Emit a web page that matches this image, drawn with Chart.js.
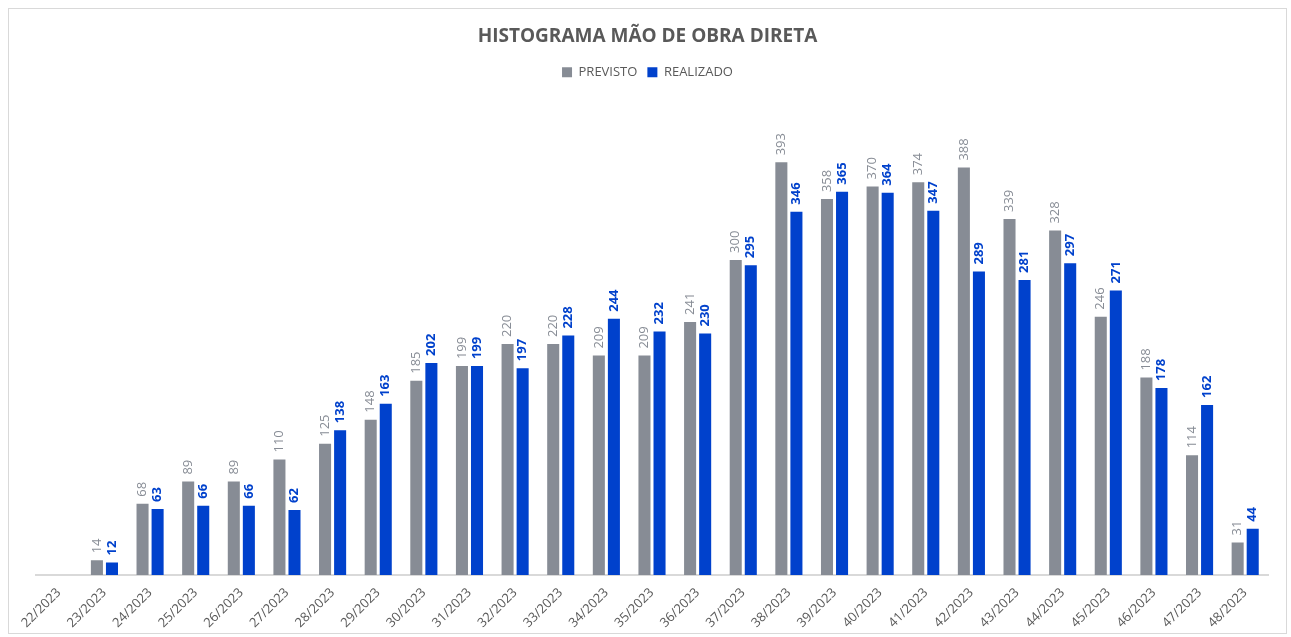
<!DOCTYPE html>
<html>
<head>
<meta charset="utf-8">
<script src="https://cdn.jsdelivr.net/npm/chart.js@4.4.1/dist/chart.umd.min.js"></script>
<style>
  html, body { margin: 0; padding: 0; background: #ffffff; }
  #frame {
    position: absolute; left: 8px; top: 8px;
    width: 1277px; height: 624px;
    border: 1px solid #d9d9d9; background: #ffffff;
  }
  canvas { display: block; }
</style>
</head>
<body>
<div id="frame"><canvas id="chart" width="1277" height="624"></canvas></div>
<script>
// Semanas (categorias do eixo X)
const semanas = [
  '22/2023','23/2023','24/2023','25/2023','26/2023','27/2023','28/2023','29/2023','30/2023',
  '31/2023','32/2023','33/2023','34/2023','35/2023','36/2023','37/2023','38/2023','39/2023',
  '40/2023','41/2023','42/2023','43/2023','44/2023','45/2023','46/2023','47/2023','48/2023'
];
// Efetivo previsto por semana
const previsto = [null, 14, 68, 89, 89, 110, 125, 148, 185, 199, 220, 220, 209, 209, 241,
  300, 393, 358, 370, 374, 388, 339, 328, 246, 188, 114, 31];
// Efetivo realizado por semana
const realizado = [null, 12, 63, 66, 66, 62, 138, 163, 202, 199, 197, 228, 244, 232, 230,
  295, 346, 365, 364, 347, 289, 281, 297, 271, 178, 162, 44];

const CINZA = '#878c95';
const AZUL = '#0041cc';
const FONTE = "'Open Sans', 'DejaVu Sans', sans-serif";

// Rótulos de valor verticais acima de cada barra
const rotulosVerticais = {
  id: 'rotulosVerticais',
  afterDatasetsDraw(chart) {
    const ctx = chart.ctx;
    chart.data.datasets.forEach((ds, i) => {
      const meta = chart.getDatasetMeta(i);
      if (meta.hidden) return;
      meta.data.forEach((bar, j) => {
        const v = ds.data[j];
        if (v === null || v === undefined) return;
        ctx.save();
        ctx.translate(bar.x, bar.y - 7);
        ctx.rotate(-Math.PI / 2);
        ctx.font = (i === 1 ? 'bold ' : '') + '13px ' + FONTE;
        ctx.fillStyle = i === 1 ? AZUL : CINZA;
        ctx.textAlign = 'left';
        ctx.textBaseline = 'middle';
        ctx.fillText(String(v), 0, 0);
        ctx.restore();
      });
    });
  }
};

new Chart(document.getElementById('chart'), {
  type: 'bar',
  data: {
    labels: semanas,
    datasets: [
      { label: 'PREVISTO', data: previsto, backgroundColor: CINZA,
        barPercentage: 0.8, categoryPercentage: 0.66 },
      { label: 'REALIZADO', data: realizado, backgroundColor: AZUL,
        barPercentage: 0.8, categoryPercentage: 0.66 }
    ]
  },
  options: {
    responsive: false,
    animation: false,
    layout: { padding: { left: 18, right: 18, top: 0, bottom: 0 } },
    plugins: {
      title: {
        display: true,
        text: 'HISTOGRAMA MÃO DE OBRA DIRETA',
        color: '#595959',
        font: { family: FONTE, size: 19, weight: 'bold' },
        padding: { top: 16, bottom: 8 }
      },
      legend: {
        display: true,
        position: 'top',
        labels: {
          color: '#595959',
          font: { family: FONTE, size: 13 },
          boxWidth: 10, boxHeight: 10,
          padding: 10
        }
      },
      tooltip: { enabled: false }
    },
    scales: {
      x: {
        grid: { display: false },
        border: { display: true, color: '#d9d9d9', width: 2 },
        ticks: {
          color: '#595959',
          font: { family: FONTE, size: 13 },
          minRotation: 45, maxRotation: 45,
          autoSkip: false,
          padding: 2
        }
      },
      y: {
        display: true,
        min: 0,
        max: 463,
        grid: { display: false },
        border: { display: false },
        ticks: { display: false },
        // eixo Y invisível, apenas reserva a margem esquerda da área de plotagem
        afterFit(scale) { scale.width = 9; }
      }
    }
  },
  plugins: [rotulosVerticais]
});
</script>
</body>
</html>
